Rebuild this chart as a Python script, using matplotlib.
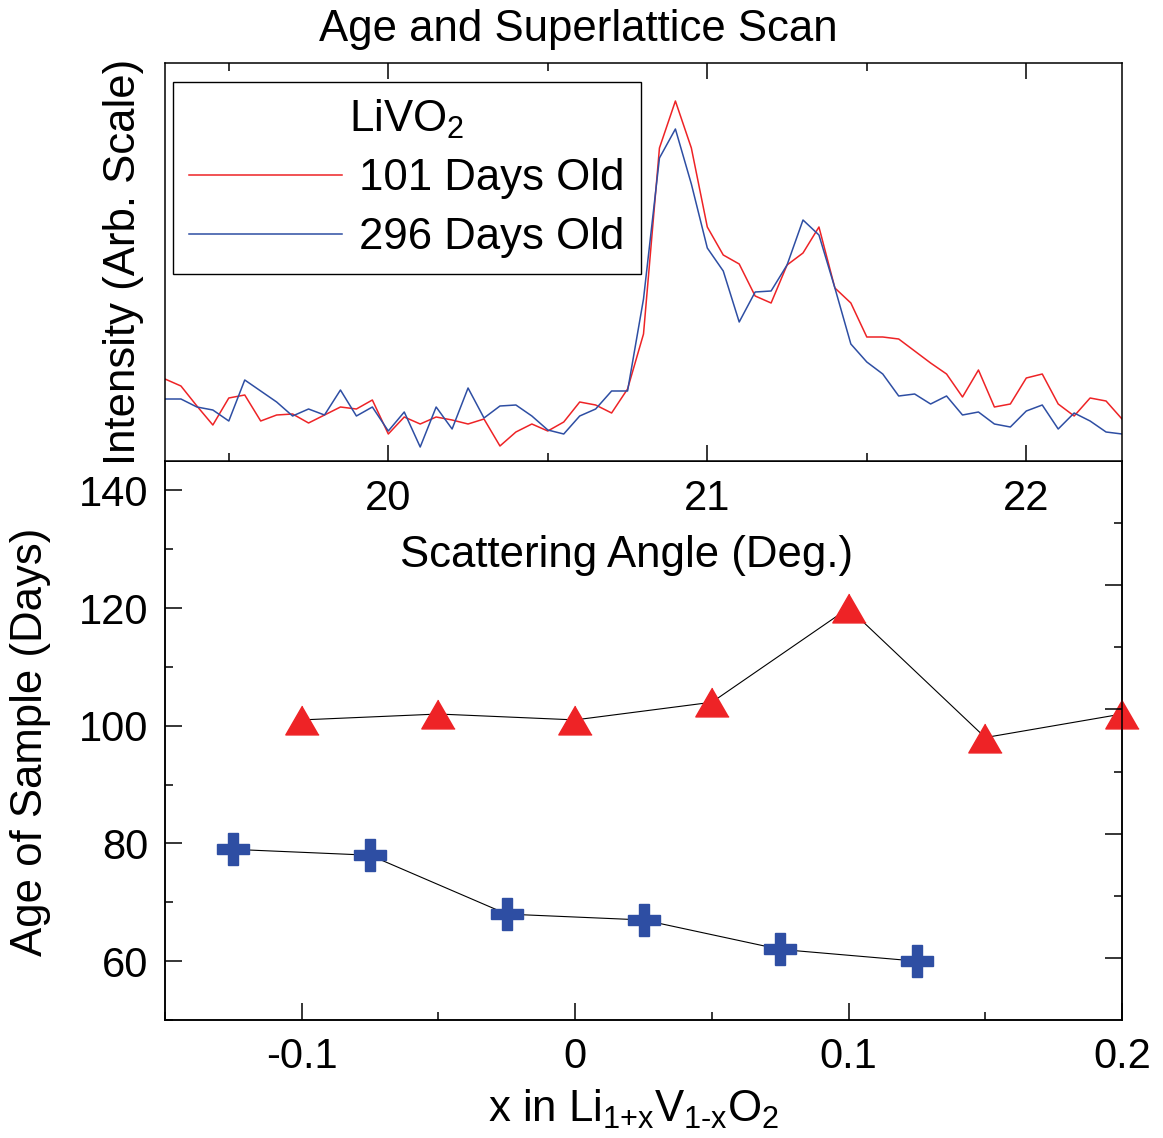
import matplotlib
matplotlib.use('Agg')
import matplotlib.pyplot as plt
from matplotlib.ticker import MultipleLocator

plt.rcParams['font.family'] = ['Liberation Sans', 'DejaVu Sans']
plt.rcParams['mathtext.fontset'] = 'custom'
plt.rcParams['mathtext.rm'] = 'Liberation Sans'
plt.rcParams['mathtext.it'] = 'Liberation Sans:italic'
plt.rcParams['axes.unicode_minus'] = False

# superlattice scan (arb. units)
angles = [19.30, 19.35, 19.40, 19.45, 19.50, 19.55, 19.60, 19.65, 19.70, 19.75,
          19.80, 19.85, 19.90, 19.95, 20.00, 20.05, 20.10, 20.15, 20.20, 20.25,
          20.30, 20.35, 20.40, 20.45, 20.50, 20.55, 20.60, 20.65, 20.70, 20.75,
          20.80, 20.85, 20.90, 20.95, 21.00, 21.05, 21.10, 21.15, 21.20, 21.25,
          21.30, 21.35, 21.40, 21.45, 21.50, 21.55, 21.60, 21.65, 21.70, 21.75,
          21.80, 21.85, 21.90, 21.95, 22.00, 22.05, 22.10, 22.15, 22.20, 22.25,
          22.30]
int_101 = [82, 75, 55, 36, 63, 66, 40, 46, 47, 38,
           46, 54, 52, 61, 27, 44, 37, 44, 41, 37,
           42, 15, 29, 37, 30, 39, 59, 56, 48, 72,
           127, 313, 360, 313, 234, 206, 197, 165, 158, 196,
           208, 234, 173, 158, 124, 124, 122, 110, 98, 87,
           64, 91, 54, 57, 83, 87, 57, 45, 63, 60,
           42]
int_296 = [62, 62, 54, 51, 40, 81, 70, 59, 45, 52,
           46, 71, 45, 54, 30, 49, 14, 54, 32, 73,
           43, 55, 56, 45, 31, 27, 45, 52, 70, 70,
           162, 303, 332, 277, 213, 190, 139, 169, 170, 196,
           241, 226, 173, 117, 99, 87, 65, 67, 57, 65,
           46, 49, 37, 34, 50, 56, 32, 48, 40, 29,
           27]
scan_labels = ['101 Days Old', '296 Days Old']

# sample age vs composition
x_red = [-0.1, -0.05, 0.0, 0.05, 0.1, 0.15, 0.2]
age_red = [101, 102, 101, 104, 120, 98, 102]
x_blue = [-0.125, -0.075, -0.025, 0.025, 0.075, 0.125]
age_blue = [79, 78, 68, 67, 62, 60]

comp_ticks = [-0.1, 0.0, 0.1, 0.2]
comp_tick_labels = ['-0.1', '0', '0.1', '0.2']

RED = '#ee2326'
BLUE = '#2e4ea3'

W, H = 1163, 1138
fig = plt.figure(figsize=(W / 100, H / 100), dpi=100)

def fx(px):
    return px / W

def fy(py):
    return 1 - py / H

# bottom panel first so the top panel's labels draw over it
ax_b = fig.add_axes([fx(165), fy(1020), fx(1122) - fx(165), fy(461) - fy(1020)])
ax_r = ax_b.twinx()
ax_t = fig.add_axes([fx(165), fy(461), fx(1122) - fx(165), fy(63) - fy(461)])

ax_b.plot(x_red, age_red, color='black', lw=0.8, zorder=2)
ax_b.plot(x_red, age_red, ls='none',
          marker=[(0, 0.866), (-1, -0.866), (1, -0.866)], ms=24,
          color=RED, mec=RED, clip_on=False, zorder=5)
ax_b.plot(x_blue, age_blue, color='black', lw=0.8, zorder=2)
ax_b.plot(x_blue, age_blue, ls='none', marker='P', ms=23,
          color=BLUE, mec=BLUE, clip_on=False, zorder=5)

ax_b.set_xlim(-0.15, 0.2)
ax_b.set_ylim(50, 145)
ax_b.set_xticks(comp_ticks, labels=comp_tick_labels)
ax_b.xaxis.set_minor_locator(MultipleLocator(0.05))
ax_b.yaxis.set_major_locator(MultipleLocator(20))
ax_b.yaxis.set_minor_locator(MultipleLocator(10))
ax_b.tick_params(which='both', direction='in', width=1.1, labelsize=30,
                 top=False, right=False)
ax_b.tick_params(which='major', length=12)
ax_b.tick_params(which='minor', length=6)
ax_b.tick_params(axis='x', pad=12)
ax_b.tick_params(axis='y', pad=12)

# right side ticks of the lower frame
ax_r.set_ylim(0, 9)
ax_r.set_yticks([1, 3, 5, 7])
ax_r.set_yticks([2, 4, 6, 8], minor=True)
ax_r.tick_params(which='both', direction='in', width=1.1, labelright=False)
ax_r.tick_params(which='major', length=12)
ax_r.tick_params(which='minor', length=6)

ax_t.plot(angles, int_101, color=RED, lw=1.1, label=scan_labels[0])
ax_t.plot(angles, int_296, color=BLUE, lw=1.1, label=scan_labels[1])
ax_t.set_xlim(19.3, 22.3)
ax_t.set_ylim(0, 398)
ax_t.set_yticks([])
ax_t.xaxis.set_major_locator(MultipleLocator(1))
ax_t.xaxis.set_minor_locator(MultipleLocator(0.5))
ax_t.tick_params(axis='x', which='both', direction='in', width=1.1,
                 top=True, bottom=True, labelsize=30, pad=13)
ax_t.tick_params(axis='x', which='major', length=11.5)
ax_t.tick_params(axis='x', which='minor', length=6)

for ax in (ax_b, ax_r, ax_t):
    for sp in ax.spines.values():
        sp.set_linewidth(1.1)

leg = ax_t.legend(title='LiVO$_2$', loc='upper left',
                  bbox_to_anchor=(fx(173), fy(82)), bbox_transform=fig.transFigure,
                  borderaxespad=0, fontsize=31.5, title_fontsize=31.5,
                  fancybox=False, edgecolor='black', framealpha=1,
                  handlelength=3.5, handletextpad=0.4, labelspacing=0.4,
                  borderpad=0.36)
leg.get_frame().set_linewidth(1.0)

fig.text(fx(578), fy(41), 'Age and Superlattice Scan', fontsize=31.5,
         ha='center', va='baseline')
fig.text(fx(627), fy(567), 'Scattering Angle (Deg.)', fontsize=31.5,
         ha='center', va='baseline')
fig.text(fx(634), fy(1122), r'x in Li$_{\text{1+x}}$V$_{\text{1-x}}$O$_2$',
         fontsize=31.5, ha='center', va='baseline')
fig.text(fx(123), fy(262), 'Intensity (Arb. Scale)', fontsize=31.5,
         rotation=90, ha='center', va='center')
fig.text(fx(31), fy(742), 'Age of Sample (Days)', fontsize=31.5,
         rotation=90, ha='center', va='center')

fig.savefig('out.png', dpi=100)
